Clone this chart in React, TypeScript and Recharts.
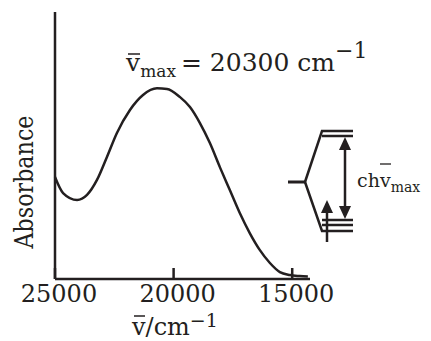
import { LineChart, Line, XAxis, YAxis, Customized } from "recharts";

// absorption band (wavenumber in cm-1, absorbance in arbitrary units)
const wavenumbers = [
  25000, 24660, 24070, 23650, 23230, 22810, 22390, 21840, 21290, 20700, 20280,
  19740, 19310, 18890, 18470, 18050, 17630, 17210, 16790, 16370, 15940, 15520,
  15100, 14680, 14340,
];
const absorbance = [
  38.2, 32.2, 29.6, 31.5, 37.1, 45.7, 54.7, 63.3, 68.9, 71.4, 71.2,
  68.2, 64.4, 58.4, 50.9, 41.9, 33.3, 24.7, 17.2, 10.9, 6.0, 2.6,
  1.5, 1.1, 0.9,
];
const xTicks = [25000, 20000, 15000];

const data = wavenumbers.map((v, i) => ({ v, a: absorbance[i] }));

const INK = "#231f20";
const FONT = "'DejaVu Serif', serif";

function XTick(props: any) {
  const { x, y, payload } = props;
  return (
    <g>
      <line x1={x} x2={x} y1={y - 11} y2={y} stroke={INK} strokeWidth={2.5} />
      <text x={x + 4} y={y + 23} textAnchor="middle" fontFamily={FONT} fontSize={24} fill={INK}>
        {payload.value}
      </text>
    </g>
  );
}

function Annotations() {
  return (
    <g fill={INK} fontFamily={FONT}>
      {/* y-axis title */}
      <text
        transform="rotate(-90 33 182)"
        x={33}
        y={182}
        textAnchor="middle"
        fontSize={26}
        textLength={133}
        lengthAdjust="spacingAndGlyphs"
      >
        Absorbance
      </text>

      {/* x-axis title */}
      <text x={132} y={335} fontSize={24}>
        v/cm
        <tspan dy={-8} fontSize={19}>−1</tspan>
      </text>
      <line x1={134} x2={145} y1={316} y2={316} stroke={INK} strokeWidth={1.5} />

      {/* band maximum label */}
      <text x={126} y={71} fontSize={25}>
        v
        <tspan dy={6} fontSize={17}>max</tspan>
        <tspan dy={-6} dx={5}>= 20300 cm</tspan>
        <tspan dy={-13} fontSize={22}>−1</tspan>
      </text>
      <line x1={128} x2={140} y1={54} y2={54} stroke={INK} strokeWidth={1.5} />

      {/* splitting diagram */}
      <g stroke={INK} strokeWidth={2.5} fill="none">
        <line x1={288} x2={305} y1={182} y2={182} strokeWidth={3} />
        <polyline points="305,182 322,131 353,131" />
        <line x1={322} x2={353} y1={136} y2={136} />
        <polyline points="305,182 322,231 353,231" />
        <line x1={322} x2={353} y1={220} y2={220} />
        <line x1={322} x2={353} y1={225} y2={225} />
        <line x1={345} x2={345} y1={146} y2={210} />
        <line x1={327} x2={327} y1={210} y2={242} />
      </g>
      <polygon points="345,137 339,150 351,150" />
      <polygon points="345,219 339,206 351,206" />
      <polygon points="327,200 321,213 333,213" />
      <text x={357} y={187} fontSize={19}>
        chv
        <tspan dy={5} fontSize={14}>max</tspan>
      </text>
      <line x1={380} x2={391} y1={164} y2={164} stroke={INK} strokeWidth={1.3} />
    </g>
  );
}

export default function App() {
  return (
    <div style={{ position: "absolute", left: 0, top: 0, background: "#fff" }}>
      <LineChart
        width={431}
        height={341}
        data={data}
        margin={{ top: 12, right: 121, bottom: 0, left: 0 }}
      >
        <XAxis
          dataKey="v"
          type="number"
          domain={[14250, 25000]}
          reversed
          ticks={xTicks}
          tickSize={0}
          tickMargin={0}
          tickLine={false}
          tick={<XTick />}
          axisLine={{ stroke: INK, strokeWidth: 2.5 }}
          height={62}
          interval={0}
        />
        <YAxis
          type="number"
          domain={[0, 100]}
          width={55}
          tick={false}
          tickLine={false}
          axisLine={{ stroke: INK, strokeWidth: 2.5 }}
        />
        <Line
          dataKey="a"
          type="monotone"
          stroke={INK}
          strokeWidth={2.5}
          dot={false}
          isAnimationActive={false}
        />
        <Customized component={Annotations} />
      </LineChart>
    </div>
  );
}
